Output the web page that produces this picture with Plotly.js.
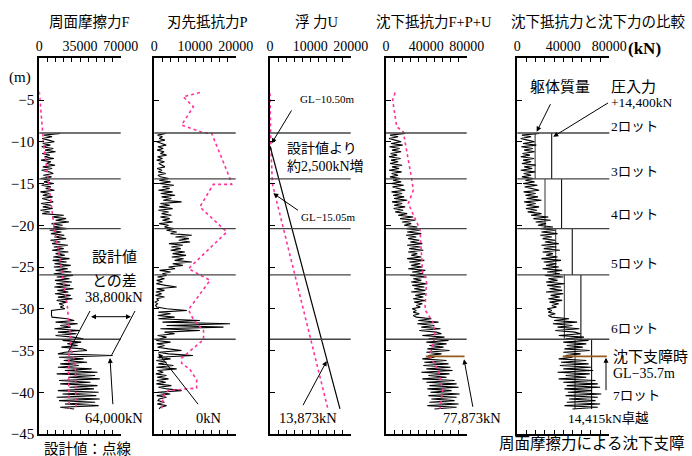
<!DOCTYPE html>
<html><head><meta charset="utf-8">
<script src="https://cdn.plot.ly/plotly-3.0.1.min.js"></script>
<style>html,body{margin:0;padding:0;background:#fff}#c{width:692px;height:456px}</style>
</head><body><div id="c"></div><script>
// ---------- data (depth in m, forces in kN) ----------
const depthM = [
 -9.0,-9.2,-9.4,-9.6,-9.8,-10.0,-10.2,-10.4,-10.6,-10.8,
 -11.0,-11.2,-11.4,-11.6,-11.8,-12.0,-12.2,-12.4,-12.6,-12.8,
 -13.0,-13.2,-13.4,-13.6,-13.8,-14.0,-14.2,-14.4,-14.6,-14.8,
 -15.0,-15.2,-15.4,-15.6,-15.8,-16.0,-16.2,-16.4,-16.6,-16.8,
 -17.0,-17.2,-17.4,-17.6,-17.8,-18.0,-18.2,-18.4,-18.6,-18.8,
 -19.0,-19.2,-19.4,-19.6,-19.8,-20.0,-20.2,-20.4,-20.6,-20.8,
 -21.0,-21.2,-21.4,-21.6,-21.8,-22.0,-22.2,-22.4,-22.6,-22.8,
 -23.0,-23.2,-23.4,-23.6,-23.8,-24.0,-24.2,-24.4,-24.6,-24.8,
 -25.0,-25.2,-25.4,-25.6,-25.8,-26.0,-26.2,-26.4,-26.6,-26.8,
 -27.0,-27.2,-27.4,-27.6,-27.8,-28.0,-28.2,-28.4,-28.6,-28.8,
 -29.0,-29.2,-29.4,-29.6,-29.8,-30.0,-30.2,-30.4,-30.6,-30.8,
 -31.0,-31.2,-31.4,-31.6,-31.8,-32.0,-32.2,-32.4,-32.6,-32.8,
 -33.0,-33.2,-33.4,-33.6,-33.8,-34.0,-34.2,-34.4,-34.6,-34.8,
 -35.0,-35.2,-35.4,-35.6,-35.8,-36.0,-36.2,-36.4,-36.6,-36.8,
 -37.0,-37.2,-37.4,-37.6,-37.8,-38.0,-38.2,-38.4,-38.6,-38.8,
 -39.0,-39.2,-39.4,-39.6,-39.8,-40.0,-40.2,-40.4,-40.6,-40.8,
 -41.0,-41.2,-41.4,-41.6,-41.8,-42.0];
const frictionF = [
 18000,4000,11000,2500,8000,13000,3000,9500,2000,12000,
 5000,14000,2500,9000,4500,12500,1500,10000,6000,13500,
 3000,11000,2000,8500,12000,3500,10500,1500,9000,4000,
 12500,2000,10000,5500,13000,1000,9000,3000,11500,2500,
 8000,12000,1500,10000,3000,11500,1000,9000,2500,21000,
 11000,23000,14000,25500,10500,20000,12000,24000,9000,19000,
 10000,21500,13000,23000,9500,18000,11000,24500,12500,21000,
 11000,25000,14000,22000,12000,26000,11500,23500,13000,27000,
 12500,24500,14000,27500,12500,29000,15000,26000,13500,28000,
 14500,26500,13000,29500,15500,25000,13500,27000,16000,28500,
 15000,24000,17000,21000,18000,22000,10500,10500,10000,10500,
 11000,24000,30000,14000,33000,18000,27000,13000,35000,16000,
 32000,14000,29000,38000,20000,36000,24000,33000,19000,37000,
 41000,22000,16000,63000,17000,38000,21000,41000,18000,34000,
 16000,45000,22000,50000,15000,48000,25000,52000,17000,44000,
 18000,50000,26000,47000,16000,51000,20000,49000,15000,52000,
 17000,48000,22000,51000,18000,30000];
const tipP = [
 2800,800,2000,1200,2600,600,1800,2900,900,2200,
 700,2400,1500,3000,800,2000,600,2500,1100,1800,
 2600,700,1900,1000,2800,900,1500,3500,1200,4000,
 1200,4800,2000,3800,1000,4500,1600,5100,1800,4200,
 2200,6700,1500,3800,1200,4500,1000,3500,1800,4200,
 1500,3800,2000,4500,1200,3500,2500,4800,3000,5500,
 4000,9200,5200,8500,6000,8800,3600,7000,4200,6500,
 4000,7500,4500,7800,4300,7200,5000,9200,4500,7000,
 3500,5100,1300,4000,2000,3000,800,2500,600,2000,
 500,2800,5500,600,2500,400,1800,300,2500,600,
 1000,200,800,300,600,3000,8000,1000,4000,800,
 5000,1000,11200,2000,18600,3000,17000,1500,11200,2500,
 5000,800,3000,1500,500,4000,600,2500,800,3500,
 6700,1000,3500,9500,800,4000,500,3000,1000,4700,
 500,5500,800,2200,400,3000,700,3500,600,2800,
 500,4200,1000,3200,6700,800,3900,600,3000,1200,
 900,2500,700,3000,1500,1200];
const resistFPU = [
 19000,4000,12000,3000,9000,15000,5000,16500,3500,13500,
 6000,15000,4500,11000,3000,14500,5000,12000,4000,16000,
 6000,13000,3000,15500,5500,12000,4000,14000,7000,15000,
 5000,17500,6500,14000,19000,5500,16000,7000,18000,8000,
 21000,6000,16000,8000,19000,7500,17000,9000,21000,12000,
 27000,14000,29000,16000,25000,18000,31000,20000,33000,21000,
 35000,20000,30000,22000,33000,24000,36000,21000,34000,23000,
 37000,22000,31000,25000,35000,21000,38000,23000,34000,25000,
 36000,22000,39000,26000,37000,24000,40000,27000,35000,25000,
 41000,26000,38000,28000,39000,25000,40000,29000,37000,27000,
 39000,28000,36000,30000,34000,26000,30000,27000,33000,27000,
 30000,45000,32000,52000,31000,48000,35000,54000,33000,50000,
 55000,36000,58000,42000,62000,40000,60000,43000,57000,41000,
 63000,40000,55000,42000,48000,36000,60000,38000,62000,37000,
 64000,40000,66000,35000,63000,42000,60000,36000,68000,40000,
 70000,43000,72000,41000,65000,44000,73000,42000,70000,45000,
 68000,43000,72000,41000,70000,48000];
const buoyDepth = [-10.5, -42.0];
const buoyU = [0, 17340];

const designFDepth = [-4.0,-8.0,-9.0,-10.0,-12.0,-14.4,-17.0,-20.4,-23.0,-26.0,-28.0,-30.0,-31.5,-33.0,-34.5,-35.5,-38.0,-40.0,-42.0];
const designF      = [0,2900,3000,3500,5200,7200,9800,12900,16500,20100,22500,24400,25000,26500,27000,25500,25200,25500,25800];
const designF2Depth = [-35.0,-36.5,-42.0];
const designF2      = [27500,31000,31500];
const designPDepth = [-4.1,-4.6,-5.8,-8.0,-8.9,-9.0,-14.4,-15.1,-15.1,-17.8,-20.8,-25.2,-26.6,-30.1,-31.3,-32.6,-33.7,-34.7,-35.9,-36.5,-37.3,-38.5,-39.5,-39.8,-40.5,-42.0];
const designP      = [11200,7100,9600,6700,12000,14100,18600,19000,14500,11200,17800,8400,13700,8400,9600,12100,12100,9600,6700,6700,8800,10400,10400,3400,2200,1800];
const designUDepth = [-4.2,-10.5,-15.05,-42.0];
const designU      = [0,200,600,14350];
const designFPUDepth = [-4.1,-5.0,-8.2,-8.8,-14.4,-15.8,-17.4,-20.5,-25.7,-26.4,-30.1,-31.7,-33.3,-35.7,-37.3,-39.7,-42.0];
const designFPU      = [9000,6600,10600,17100,25400,27100,22100,33700,36300,40300,38600,46900,48500,43500,51800,56200,53500];

const lotDepths = [-8.95,-14.45,-20.4,-25.95,-33.65];
const lotTop    = [-8.95,-14.45,-20.4,-25.95,-33.65];
const lotBottom = [-14.45,-20.4,-25.95,-33.65,-42.0];
const bodyMass  = [15500,24100,33400,40900,50200];
const pressForce = 14400;
const stopDepth = -35.7;
const stopRange = [39500, 77873];

const panelTitles = ['周面摩擦力F','刃先抵抗力P','浮 力U','沈下抵抗力F+P+U','沈下抵抗力と沈下力の比較'];
const titleX = [89,207,317,434,598];
const xRanges = [[0,70000],[0,20000],[0,20000],[0,80000],[0,80000]];
const xTicks  = [[0,35000,70000],[0,10000,20000],[0,10000,20000],[0,40000,80000],[0,40000,80000]];
const xMinor  = [7000,2000,2000,8000,8000];
const depthTicks = [-5,-10,-15,-20,-25,-30,-35,-40,-45];

// ---------- layout geometry ----------
const W=692,H=456;
const pxDom = [[39.3,120.7],[154.3,235.7],[270,350.7],[386,466.7],[517.3,609.3]];
const yTop=58.3, yBot=434;
const FONT = '"Liberation Serif", "Noto Sans CJK JP", serif';
const px = x => x/W, py = y => 1 - y/H;

const BLACK = '#000', PINK = '#ff3399';
const traces = [];
function ax(i){ return i===0 ? '' : String(i+1); }
function line(x,y,i,color,width,dash){
  traces.push({type:'scatter',mode:'lines',x:x,y:y,xaxis:'x'+ax(i),yaxis:'y'+ax(i),
    line:{color:color,width:width,dash:dash||'solid'},hoverinfo:'skip',showlegend:false});
}
{
  const xs=[],ys=[],xs2=[],ys2=[];
  for(let k=0;k<bodyMass.length;k++){
    xs.push(bodyMass[k],bodyMass[k],null); ys.push(lotTop[k],lotBottom[k],null);
    xs2.push(bodyMass[k]+pressForce,bodyMass[k]+pressForce,null); ys2.push(lotTop[k],lotBottom[k],null);
  }
  line(xs,ys,4,'#333',1);
  line(xs2,ys2,4,'#111',1.1);
}
const MW = 1.1;
line(frictionF,depthM,0,BLACK,MW);
line(designF,designFDepth,0,PINK,1.6,'3px,3px');
line(designF2,designF2Depth,0,PINK,1.6,'3px,3px');
line(tipP,depthM,1,BLACK,MW);
line(designP,designPDepth,1,PINK,1.6,'3px,3px');
line(designU,designUDepth,2,PINK,1.6,'3px,3px');
line(buoyU,buoyDepth,2,BLACK,1.2);
line(resistFPU,depthM,3,BLACK,MW);
line(designFPU,designFPUDepth,3,PINK,1.6,'3px,3px');
line(stopRange,[stopDepth,stopDepth],3,'#9a5a1e',1.6);
line(resistFPU,depthM,4,BLACK,MW);
line(stopRange,[stopDepth,stopDepth],4,'#9a5a1e',1.6);

const layout = {
  width:W,height:H,margin:{l:0,r:0,t:0,b:0},
  paper_bgcolor:'#fff',plot_bgcolor:'rgba(0,0,0,0)',
  font:{family:FONT,color:'#000',size:14},
  showlegend:false,shapes:[],annotations:[]
};
for(let i=0;i<5;i++){
  const a=ax(i);
  layout['xaxis'+a] = {
    domain:[px(pxDom[i][0]),px(pxDom[i][1])],range:xRanges[i],side:'top',anchor:'y'+a,
    showline:true,linewidth:2,linecolor:'#000',mirror:'ticks',
    ticks:'inside',ticklen:4,tickwidth:1,tickcolor:'#000',
    tickvals:xTicks[i],ticktext:xTicks[i].map(String),tickfont:{size:14,family:FONT},
    minor:{ticks:'inside',dtick:xMinor[i],tick0:0,ticklen:4,tickwidth:1,tickcolor:'#000',showgrid:false},
    showgrid:false,zeroline:false,fixedrange:true
  };
  layout['yaxis'+a] = {
    domain:[py(yBot),py(yTop)],range:[-45,0],anchor:'x'+a,
    showline:true,linewidth:2,linecolor:'#000',
    ticks:'inside',ticklen:5,tickwidth:1,tickcolor:'#000',
    tickvals:depthTicks,showticklabels:i===0,tickfont:{size:15,family:FONT},
    showgrid:false,zeroline:false,fixedrange:true
  };
  lotDepths.forEach(d=>{
    layout.shapes.push({type:'line',xref:'x'+a+' domain',x0:0,x1:1,yref:'y'+a,y0:d,y1:d,
      line:{color:'#444',width:1.3},layer:'above'});
  });
  layout.annotations.push({text:panelTitles[i],x:px(titleX[i]),y:py(22),xref:'paper',yref:'paper',
    xanchor:'center',yanchor:'middle',showarrow:false,font:{size:14.5,family:FONT}});
}
function label(text,x,y,size,opts){
  return Object.assign({text:text,x:px(x),y:py(y),xref:'paper',yref:'paper',showarrow:false,
    xanchor:'center',yanchor:'middle',font:{size:size,family:FONT,color:'#000'}},opts||{});
}
function arrow(tx,ty,hx,hy,opts){
  return Object.assign({x:px(hx),y:py(hy),xref:'paper',yref:'paper',ax:tx-hx,ay:ty-hy,
    axref:'pixel',ayref:'pixel',showarrow:true,arrowhead:2,arrowsize:1,arrowwidth:1,
    arrowcolor:'#000',standoff:0,font:{size:2}},opts||{});
}
layout.annotations.push(
  label('(m)',20,77,15),
  label('<b>(kN)</b>',644,49,17),
  label('設計値',114,257,15),
  label('との差',114,281,15),
  label('38,800kN',114,297,14.5),
  label('64,000kN',114,418,14.5),
  label('0kN',209,418,14.5),
  label('設計値：点線',88,449,14.5),
  label('GL−10.50m',327,98.5,11),
  label('設計値より',285,148.5,14,{xanchor:'left'}),
  label('約2,500kN増',285,166.5,14,{xanchor:'left'}),
  label('GL−15.05m',328,217,11),
  label('13,873kN',308,418,14.5),
  label('77,873kN',472,418,14.5),
  label('躯体質量',560,87,15),
  label('圧入力',609,87,15,{xanchor:'left'}),
  label('+14,400kN',609,102.5,13.5,{xanchor:'left'}),
  label('2ロット',609,126,13.5,{xanchor:'left'}),
  label('3ロット',609,171,13.5,{xanchor:'left'}),
  label('4ロット',609,214,13.5,{xanchor:'left'}),
  label('5ロット',609,263,13.5,{xanchor:'left'}),
  label('6ロット',609,328,13.5,{xanchor:'left'}),
  label('沈下支障時',611,357,15,{xanchor:'left'}),
  label('GL−35.7m',611,373,14,{xanchor:'left'}),
  label('7ロット',611,395,13.5,{xanchor:'left'}),
  label('14,415kN卓越',608,418,13.5),
  label('周面摩擦力による沈下支障',592,443,15.5),
  arrow(89,316.7,131,316.7,{arrowside:'end+start',startarrowhead:2,startarrowsize:1}),
  arrow(113,406.7,110,358),
  arrow(200,406.7,158.3,353.3),
  arrow(293,108,271.7,143.3),
  arrow(300,211.7,273.3,193.3),
  arrow(301.7,407.7,326.7,361),
  arrow(473.3,409.3,464,359.3),
  arrow(551.7,101.7,536.7,131.7),
  arrow(610,101.7,553.3,136.7),
  arrow(606,392.7,606,357.7)
);
layout.shapes.push(
  {type:'line',xref:'paper',yref:'paper',x0:px(90),y0:py(311),x1:px(68.3),y1:py(351.7),line:{color:'#000',width:1}},
  {type:'line',xref:'paper',yref:'paper',x0:px(135),y0:py(311),x1:px(111.7),y1:py(355),line:{color:'#000',width:1}}
);
Plotly.newPlot('c',traces,layout,{staticPlot:true,displayModeBar:false});
</script></body></html>
